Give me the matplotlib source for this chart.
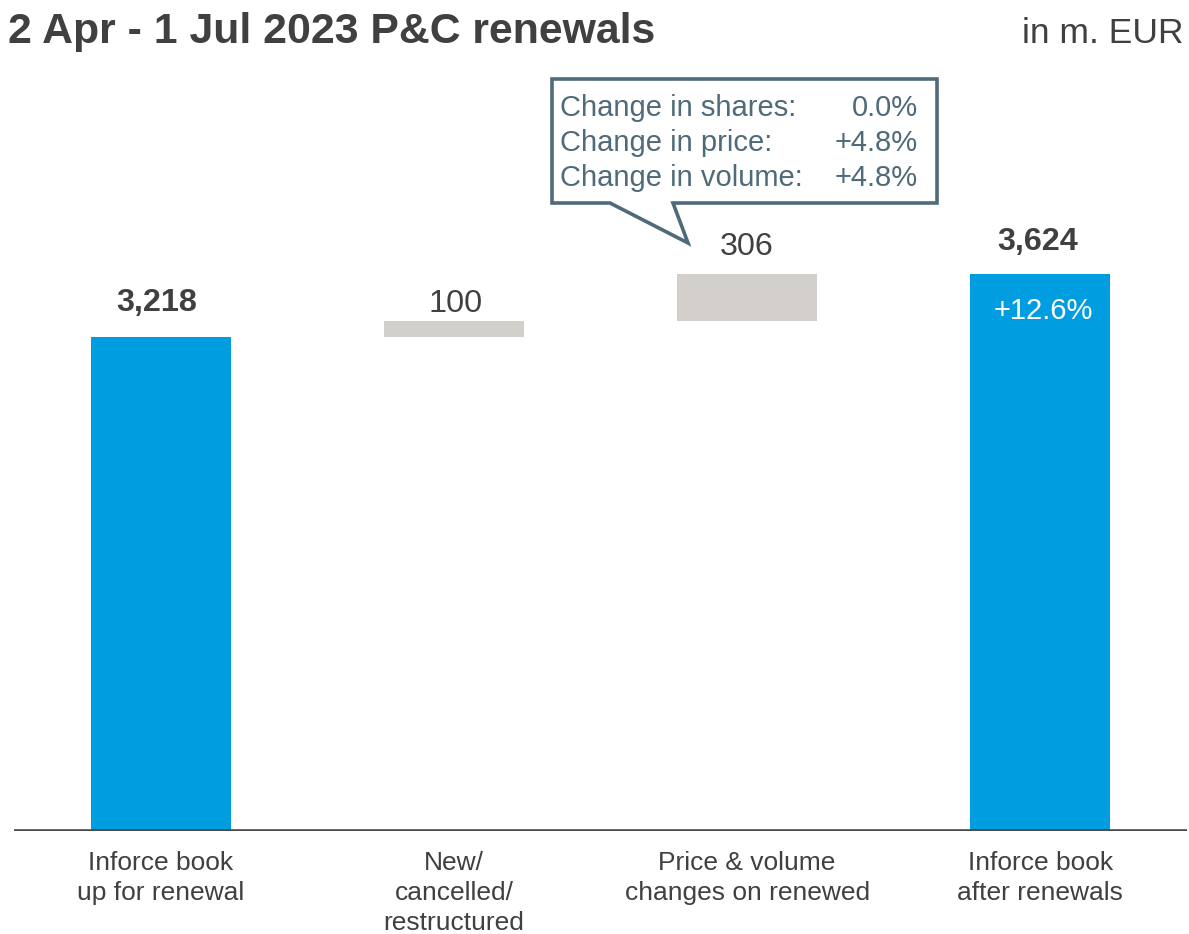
import matplotlib
matplotlib.use("Agg")
import matplotlib.pyplot as plt
from matplotlib.patches import Polygon
from matplotlib.transforms import blended_transform_factory

plt.rcParams['font.family'] = ['Liberation Sans', 'DejaVu Sans']

# Waterfall data (m. EUR)
categories = ["Inforce book\nup for renewal", "New/\ncancelled/\nrestructured",
              "Price & volume\nchanges on renewed", "Inforce book\nafter renewals"]
start_value = 3218
changes = [100, 306]
end_value = 3624
value_labels = ["3,218", "100", "306", "3,624"]
growth_label = "+12.6%"
callout_rows = ["Change in shares:", "Change in price:", "Change in volume:"]
callout_values = ["0.0%", "+4.8%", "+4.8%"]

W, H = 1189, 934
BLUE = "#009EE0"
GREY = "#D3D0CB"
TEXT = "#404040"
SLATE = "#4F6A79"

fig = plt.figure(figsize=(W / 100, H / 100), dpi=100)


def fx(px):
    return px / W


def fy(py):
    return 1 - py / H


ax = fig.add_axes([fx(14), fy(830.5), fx(1187) - fx(14), fy(60) - fy(830.5)])
ax.set_xlim(-0.5, 3.5)
ax.set_ylim(0, 5020)
ax.axis("off")

bar_w = 0.477
x = list(range(4))
bottoms = [0, start_value, start_value + changes[0], 0]
heights = [start_value, changes[0], changes[1], end_value]
colors = [BLUE, GREY, GREY, BLUE]
ax.bar(x, heights, bottom=bottoms, width=bar_w, color=colors, linewidth=0, zorder=2)

# baseline
ax.axhline(0, color="#4a4a4a", lw=2.6, zorder=3)

# value labels above bars
offsets_pt = [18.5, 7.0, 13.7, 17.5]
xshift_pt = [-2.5, 1.5, 0, -2.0]
weights = ["bold", "normal", "normal", "bold"]
for i in range(4):
    top = bottoms[i] + heights[i]
    ax.annotate(value_labels[i], (x[i], top), xytext=(xshift_pt[i], offsets_pt[i]),
                textcoords="offset points", ha="center", va="baseline",
                fontsize=23.3, fontweight=weights[i], color=TEXT, zorder=4)

# growth label inside the final bar
ax.annotate(growth_label, (x[3], end_value), xytext=(2, -32),
            textcoords="offset points", ha="center", va="baseline",
            fontsize=21, color="white", zorder=4)

# category labels below the axis
label_tf = blended_transform_factory(ax.transData, fig.transFigure)
for i, lab in enumerate(categories):
    ax.text(x[i], fy(851), lab, transform=label_tf,
            ha="center", va="top", fontsize=19, color=TEXT, linespacing=1.31)

# title and unit
fig.text(fx(8), fy(43), "2 Apr - 1 Jul 2023 P&C renewals", ha="left", va="baseline",
         fontsize=30.8, fontweight="bold", color=TEXT)
fig.text(fx(1183), fy(43), "in m. EUR", ha="right", va="baseline",
         fontsize=25.5, color=TEXT)

# speech-bubble callout
bubble = [(552, 79), (937, 79), (937, 203), (673, 203), (688, 243),
          (610, 203), (552, 203)]
poly = Polygon([(fx(a), fy(b)) for a, b in bubble], closed=True,
               transform=fig.transFigure, facecolor="white", edgecolor=SLATE,
               linewidth=2.6, joinstyle="miter", zorder=5)
fig.patches.append(poly)

baselines = [116, 151, 186]
for row, val, yb in zip(callout_rows, callout_values, baselines):
    fig.text(fx(560), fy(yb), row, ha="left", va="baseline", fontsize=21,
             color=SLATE, zorder=6)
    fig.text(fx(918), fy(yb), val, ha="right", va="baseline", fontsize=21,
             color=SLATE, zorder=6)

fig.savefig("out.png", dpi=100)
